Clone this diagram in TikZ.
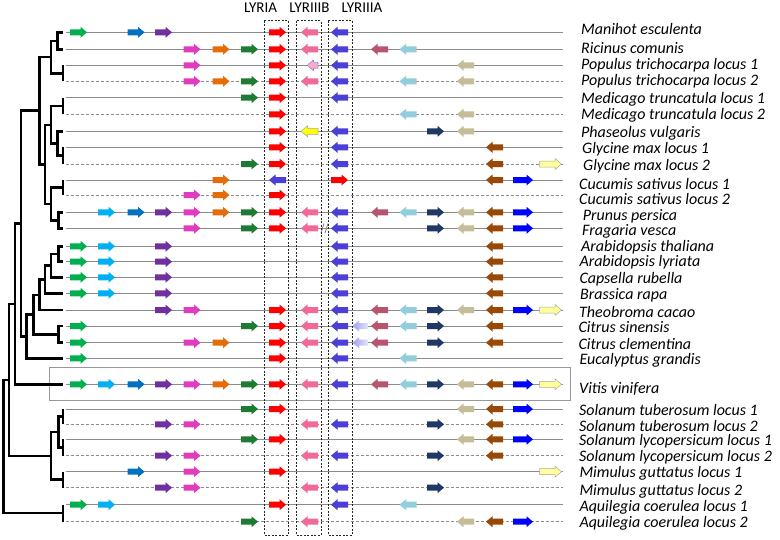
\documentclass[tikz,border=0pt]{standalone}
\usepackage{fontspec}
\setmainfont{Carlito}
\definecolor{cG}{HTML}{00B050}
\definecolor{cC}{HTML}{00B0F0}
\definecolor{cB}{HTML}{0070C0}
\definecolor{cP}{HTML}{7030A0}
\definecolor{cM}{HTML}{E03CC0}
\definecolor{cO}{HTML}{E46C0A}
\definecolor{cD}{HTML}{1E7B34}
\definecolor{cR}{HTML}{FF0000}
\definecolor{cK}{HTML}{F06A96}
\definecolor{cV}{HTML}{4A3FD6}
\definecolor{cU}{HTML}{B5566E}
\definecolor{cL}{HTML}{92CDDC}
\definecolor{cN}{HTML}{1F3864}
\definecolor{cE}{HTML}{C4BD97}
\definecolor{cW}{HTML}{984807}
\definecolor{cZ}{HTML}{0000FF}
\definecolor{cY}{HTML}{FFFF99}
\definecolor{cYY}{HTML}{FFFF00}
\definecolor{cLav}{HTML}{A0A0F0}
% column centres and widths
\def\xG{78.5}\def\xC{106.5}\def\xB{136}\def\xP{163.5}\def\xM{192}\def\xO{221}\def\xD{249.5}
\def\xR{277.5}\def\xK{309.5}\def\xV{339.5}\def\xU{379.5}\def\xL{408}\def\xN{435.5}
\def\xE{465.5}\def\xW{494.5}\def\xZ{523}\def\xY{550.5}
\def\wG{17}\def\wC{17}\def\wB{17}\def\wP{17}\def\wM{17}\def\wO{17}\def\wD{17}
\def\wR{17}\def\wK{17}\def\wV{17}\def\wU{17}\def\wL{17}\def\wN{17}
\def\wE{17}\def\wW{17}\def\wZ{20}\def\wY{22}
\newcommand\arrR[4]{\path[#4] ({#1-#3/2},{#2-3}) -- ({#1+#3/2-6.5},{#2-3}) -- ({#1+#3/2-6.5},{#2-5.5}) -- ({#1+#3/2},{#2}) -- ({#1+#3/2-6.5},{#2+5.5}) -- ({#1+#3/2-6.5},{#2+3}) -- ({#1-#3/2},{#2+3}) -- cycle;}
\newcommand\arrL[4]{\path[#4] ({#1+#3/2},{#2-3}) -- ({#1-#3/2+6.5},{#2-3}) -- ({#1-#3/2+6.5},{#2-5.5}) -- ({#1-#3/2},{#2}) -- ({#1-#3/2+6.5},{#2+5.5}) -- ({#1-#3/2+6.5},{#2+3}) -- ({#1+#3/2},{#2+3}) -- cycle;}
\newcommand\generow[2]{\foreach \cc/\dd in {#2}{\edef\tmpg{\noexpand\csname arr\dd\endcsname{\csname x\cc\endcsname}{#1}{\csname w\cc\endcsname}{g\cc}}\tmpg}}
\tikzset{
  gG/.style={fill=cG}, gC/.style={fill=cC}, gB/.style={fill=cB}, gP/.style={fill=cP},
  gM/.style={fill=cM}, gO/.style={fill=cO}, gD/.style={fill=cD}, gR/.style={fill=cR},
  gK/.style={fill=cK}, gV/.style={fill=cV}, gU/.style={fill=cU}, gL/.style={fill=cL},
  gN/.style={fill=cN}, gE/.style={fill=cE}, gW/.style={fill=cW}, gZ/.style={fill=cZ},
  gY/.style={fill=cY, draw=black!35, line width=0.5pt},
  gYY/.style={fill=cYY, draw=black!35, line width=0.5pt},
  glav/.style={left color=cLav, right color=cLav!25},
  gpop/.style={fill=cK!55, draw=cV!70, dash pattern=on 1.5pt off 1pt, line width=0.7pt},
  treeln/.style={line width=2.5pt, black},
  rowln/.style={black!45, line width=0.9pt},
  rowdash/.style={rowln, dash pattern=on 3pt off 2pt},
  lybox/.style={draw=black!85, line width=0.7pt, dash pattern=on 2pt off 1.5pt},
  vitbox/.style={draw=black!40, line width=0.9pt},
  spname/.style={anchor=west, inner sep=0pt, font=\fontsize{16}{18}\selectfont\itshape},
  hdr/.style={inner sep=0pt, font=\fontsize{15}{17}\selectfont}
}
\begin{document}
\begin{tikzpicture}[x=1pt,y=-1pt]
\useasboundingbox[fill=white] (0,0) rectangle (780,539);
% Vitis frame
\draw[vitbox] (49,367.7) rectangle (570,400);
% row lines
\foreach \y in {32.3,49.3,65.3,97.7,131.3,147.3,180,212.3,228.3,246.3,261.7,277.3,293.3,310,326,342.7,358.3,384.3,409,439.3,471.7,504.7}
  \draw[rowln] (65.7,\y) -- (562.7,\y);
\foreach \y in {81.3,114.3,164,195,424.3,455.7,487.7,521.7}
  \draw[rowdash] (65.7,\y) -- (562.7,\y);
% tree: leaf ends
\foreach \i/\y in {1/32.3,2/49.3,3/65.3,4/81.3,5/97.7,6/114.3,7/131.3,8/147.3,9/164,10/180,11/195,12/212.3,13/228.3,14/246.3,15/261.7,16/277.3,17/293.3,18/310,19/326,20/342.7,21/358.3,22/384.3,23/409,24/424.3,25/439.3,26/455.7,27/471.7,28/487.7,29/504.7,30/521.7}
  \coordinate (lf\i) at (63,\y);
\coordinate (nA) at (57.7,40.8);
\coordinate (nB) at (63,73.3);
\coordinate (nAB) at (51,57.05);
\coordinate (nC) at (63,106);
\coordinate (nD) at (63,155.65);
\coordinate (nE) at (57.7,143.5);
\coordinate (nCE) at (51,124.75);
\coordinate (nF) at (63,187.5);
\coordinate (nG) at (58.3,220.3);
\coordinate (nFG) at (51,203.9);
\coordinate (nCEFG) at (45,164.3);
\coordinate (nFAB) at (39.3,110.7);
\coordinate (nH) at (58.3,254);
\coordinate (nH2) at (51,265.65);
\coordinate (nH3) at (45,279.5);
\coordinate (nH4) at (39.3,294.75);
\coordinate (nCIT) at (58.3,334.35);
\coordinate (nMC) at (33.3,314.55);
\coordinate (nME) at (26.7,336.4);
\coordinate (nROS) at (21,223.55);
\coordinate (nVIT) at (15,303.9);
\coordinate (nST) at (63,416.65);
\coordinate (nSL) at (63,447.5);
\coordinate (nSOL) at (58.3,432.1);
\coordinate (nMIM) at (63,479.7);
\coordinate (nAST) at (51,455.9);
\coordinate (nCORE) at (9,379.9);
\coordinate (nAQ) at (63,513.2);
\coordinate (nROOT) at (3.3,446.5);
\foreach \a/\n/\b in {lf1/nA/lf2, lf3/nB/lf4, nA/nAB/nB, lf5/nC/lf6, lf8/nD/lf9, lf7/nE/nD, nC/nCE/nE,
  lf10/nF/lf11, lf12/nG/lf13, nF/nFG/nG, nCE/nCEFG/nFG, nAB/nFAB/nCEFG,
  lf14/nH/lf15, nH/nH2/lf16, nH2/nH3/lf17, nH3/nH4/lf18, lf19/nCIT/lf20, nH4/nMC/nCIT, nMC/nME/lf21,
  nFAB/nROS/nME, nROS/nVIT/lf22, lf23/nST/lf24, lf25/nSL/lf26, nST/nSOL/nSL, lf27/nMIM/lf28,
  nSOL/nAST/nMIM, nVIT/nCORE/nAST, lf29/nAQ/lf30, nCORE/nROOT/nAQ}
  \draw[treeln] (\a) -| (\n) |- (\b);
% genes
\generow{32.3}{G/R,B/R,P/R,R/R,K/L,V/L}
\generow{49.3}{M/R,O/R,D/R,R/R,K/L,V/L,U/L,L/L}
\generow{65.3}{M/R,R/R,V/L,E/L}
\arrL{312.5}{65.3}{11}{gpop}
\generow{81.3}{M/R,O/R,D/R,R/R,K/L,V/L,L/L,E/L}
\generow{97.7}{D/R,R/R,V/L}
\generow{114.3}{R/R,L/L,E/L}
\generow{131.3}{R/R,V/L,N/R,E/L}
\arrL{\xK}{131.3}{17}{gYY}
\generow{147.3}{R/R,V/L,W/L}
\generow{164}{D/R,R/R,V/L,W/L,Y/R}
\generow{180}{O/R,W/L,Z/R}
\arrL{\xR}{180}{17}{gV}
\arrR{\xV}{180}{17}{gR}
\generow{195}{M/R,O/R,R/R}
\generow{212.3}{C/R,B/R,P/R,M/R,O/R,D/R,R/R,K/L,V/L,U/L,L/L,N/R,E/L,W/L,Z/R}
\generow{228.3}{M/R,D/R,R/R,K/L,V/L,N/R,E/L,W/L,Z/R}
\draw[black!50, line width=0.8pt] (321,233) -- (324,223.5) (325,233) -- (328,223.5);
\foreach \y in {246.3,261.7,277.3,293.3}{\generow{\y}{G/R,C/R,P/R,V/L,W/L}}
\generow{310}{P/R,M/R,R/R,K/L,V/L,U/L,L/L,N/R,E/L,W/L,Z/R,Y/R}
\generow{326}{G/R,D/R,R/R,K/L,V/L,U/L,L/L,N/R,W/L}
\arrL{360.5}{326}{16}{glav}
\generow{342.7}{G/R,M/R,O/R,R/R,K/L,V/L,U/L,N/R,W/L}
\arrL{360.5}{342.7}{16}{glav}
\generow{358.3}{G/R,R/R,V/L,L/L}
\generow{384.3}{G/R,C/R,B/R,P/R,M/R,O/R,D/R,R/R,K/L,V/L,U/L,L/L,N/R,E/L,W/L,Z/R,Y/R}
\generow{409}{D/R,R/R,E/L,W/L,Z/R}
\generow{424.3}{P/R,M/R,K/L,V/L,N/R,W/L}
\generow{439.3}{D/R,R/R,E/L,W/L,Z/R}
\generow{455.7}{P/R,M/R,K/L,V/L,N/R,W/L}
\generow{471.7}{B/R,M/R,R/R,Y/R}
\generow{487.7}{P/R,M/R,K/L,V/L,N/R}
\generow{504.7}{G/R,C/R,R/R,V/L,L/L}
\generow{521.7}{D/R,K/L,E/L,W/L,Z/R}
% LYR boxes
\draw[lybox] (264.3,20.7) rectangle (288.3,535);
\draw[lybox] (296.7,20.7) rectangle (321,535);
\draw[lybox] (328.3,20.7) rectangle (352.3,535);
\node[hdr] (hA) at (260.5,8) {LYRIA};
\node[hdr] (hB) at (309.5,8) {LYRIIIB};
\node[hdr] (hC) at (362,8) {LYRIIIA};
% species labels
\foreach \i/\x/\y/\t in {1/581/29.3/Manihot esculenta, 2/581/47.7/Ricinus comunis,
  3/581/65.7/Populus trichocarpa locus 1, 4/581/81.7/Populus trichocarpa locus 2,
  5/581/99/Medicago truncatula locus 1, 6/581/115/Medicago truncatula locus 2,
  7/581/133.3/Phaseolus vulgaris, 8/582/149.3/Glycine max locus 1, 9/583/166.7/Glycine max locus 2,
  10/579/184/Cucumis sativus locus 1, 11/579/198.8/Cucumis sativus locus 2,
  12/582.7/216.5/Prunus persica, 13/582/231.5/Fragaria vesca, 14/581/246.8/Arabidopsis thaliana,
  15/579.3/262.7/Arabidopsis lyriata, 16/579.3/279.3/Capsella rubella, 17/580/295/Brassica rapa,
  18/579/311.7/Theobroma cacao, 19/578.3/327.3/Citrus sinensis, 20/578.3/344/Citrus clementina,
  21/579.3/360.7/Eucalyptus grandis, 22/579/389/Vitis vinifera,
  23/579/410/Solanum tuberosum locus 1, 24/579/426/Solanum tuberosum locus 2,
  25/579/441.7/Solanum lycopersicum locus 1, 26/579/457.3/Solanum lycopersicum locus 2,
  27/579.3/473.3/Mimulus guttatus locus 1, 28/579.3/491/Mimulus guttatus locus 2,
  29/579.3/507.5/Aquilegia coerulea locus 1, 30/579.3/523.3/Aquilegia coerulea locus 2}
  \node[spname] (sp\i) at (\x,\y) {\t};
\end{tikzpicture}
\end{document}
